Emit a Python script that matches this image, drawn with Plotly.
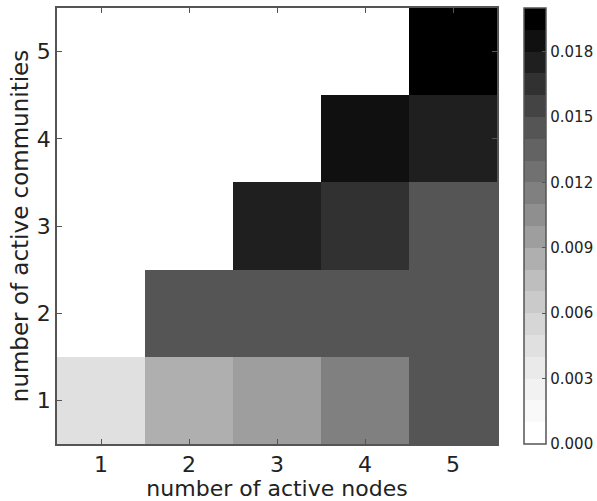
import plotly.graph_objects as go

nodes = [1, 2, 3, 4, 5]
communities = [1, 2, 3, 4, 5]
# rows = communities (1..5), cols = nodes (1..5)
row_c1 = [0.0045, 0.0085, 0.0095, 0.0115, 0.0145]
row_c2 = [None, 0.0145, 0.0145, 0.0145, 0.0145]
row_c3 = [None, None, 0.0175, 0.0165, 0.0145]
row_c4 = [None, None, None, 0.0185, 0.0175]
row_c5 = [None, None, None, None, 0.0195]
cbar_ticks = [0.000, 0.003, 0.006, 0.009, 0.012, 0.015, 0.018]

z = [row_c1, row_c2, row_c3, row_c4, row_c5]

# matplotlib "Greys" anchors, discretised into 20 bands
anchors = [255, 240, 217, 189, 150, 115, 82, 37, 0]
def greys(t):
    p = t * 8
    i = min(int(p), 7)
    f = p - i
    return anchors[i] + (anchors[i + 1] - anchors[i]) * f

nb = 20
colorscale = []
for i in range(nb):
    g = int(round(greys(i / (nb - 1))))
    c = f"rgb({g},{g},{g})"
    colorscale.append([i / nb, c])
    colorscale.append([(i + 1) / nb, c])

fig = go.Figure(go.Heatmap(
    x=nodes, y=communities, z=z,
    zmin=0, zmax=0.020,
    colorscale=colorscale,
    xgap=0, ygap=0,
    colorbar=dict(
        x=1.0614, xanchor="left", xref="paper",
        y=0, yanchor="bottom", len=1, lenmode="fraction",
        thickness=22, xpad=0, ypad=0,
        outlinecolor="#555", outlinewidth=1.5,
        tickvals=cbar_ticks, tickformat=".3f",
        ticks="inside", ticklen=4, tickcolor="#555",
        tickfont=dict(size=15, color="#222", family="DejaVu Sans"),
    ),
))

axis_common = dict(
    showgrid=False, zeroline=False,
    showline=True, linecolor="#555", linewidth=1.5, mirror="ticks",
    ticks="inside", ticklen=5, tickcolor="#555",
)

fig.update_layout(
    width=597, height=501,
    margin=dict(l=57, r=100, t=8, b=57, autoexpand=False),
    paper_bgcolor="white", plot_bgcolor="white",
    font=dict(family="DejaVu Sans", color="#222"),
    xaxis=dict(axis_common, range=[0.5, 5.5], tickvals=nodes,
               tickfont=dict(size=22, color="#222", family="DejaVu Sans"),
               title=dict(text="number of active nodes", standoff=4,
                          font=dict(size=22, color="#222", family="DejaVu Sans"))),
    yaxis=dict(axis_common, range=[0.5, 5.5], tickvals=communities,
               tickfont=dict(size=22, color="#222", family="DejaVu Sans"),
               title=dict(text="number of active communities", standoff=2,
                          font=dict(size=23, color="#222", family="DejaVu Sans"))),
)

fig.write_html("out.html")
